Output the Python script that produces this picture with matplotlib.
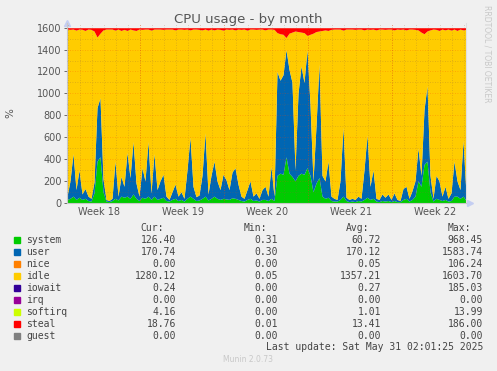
import numpy as np
import matplotlib
matplotlib.use('Agg')
import matplotlib.pyplot as plt
from matplotlib.patches import Rectangle

# munin "cpu" plugin, month view, one sample per 6 hours
system = [30, 40, 60, 30, 50, 30, 40, 20, 15, 90,
          380, 420, 100, 15, 10, 20, 40, 25, 60, 50,
          60, 40, 80, 40, 20, 50, 40, 60, 30, 60,
          30, 40, 50, 20, 15, 30, 40, 20, 30, 15,
          40, 60, 40, 20, 25, 40, 60, 25, 40, 60,
          40, 30, 40, 35, 30, 45, 40, 30, 20, 15,
          30, 40, 20, 25, 15, 30, 30, 20, 40, 20,
          250, 270, 260, 420, 270, 240, 200, 250, 270, 260,
          320, 250, 100, 180, 230, 60, 40, 50, 20, 15,
          15, 30, 60, 20, 10, 15, 10, 20, 15, 30,
          50, 30, 40, 15, 10, 20, 15, 20, 10, 20,
          10, 10, 30, 40, 15, 30, 60, 200, 150, 350,
          380, 100, 15, 40, 30, 20, 30, 15, 20, 60,
          60, 40, 60, 20]
user = [30, 160, 390, 90, 250, 50, 90, 40, 25, 100,
        490, 540, 120, 15, 10, 20, 340, 35, 180, 100,
        400, 190, 480, 140, 40, 270, 160, 500, 60, 390,
        90, 160, 210, 40, 15, 70, 130, 40, 70, 25,
        260, 540, 110, 35, 45, 210, 580, 55, 210, 320,
        160, 90, 220, 175, 90, 235, 280, 140, 40, 25,
        90, 160, 40, 65, 25, 90, 120, 40, 290, 40,
        950, 850, 910, 980, 950, 860, 100, 750, 980, 840,
        1080, 650, 100, 520, 1040, 190, 160, 330, 40, 25,
        15, 170, 630, 30, 20, 25, 20, 40, 25, 270,
        570, 120, 260, 25, 20, 60, 35, 60, 20, 70,
        20, 10, 100, 110, 25, 80, 140, 300, 100, 500,
        690, 150, 25, 210, 170, 40, 120, 25, 70, 320,
        140, 80, 510, 60]
idle = [1528, 1385, 1138, 1458, 1288, 1506, 1445, 1528, 1545, 1380,
        645, 590, 1360, 1558, 1568, 1548, 1198, 1528, 1335, 1435,
        1115, 1358, 1020, 1395, 1528, 1265, 1388, 1028, 1488, 1138,
        1468, 1388, 1325, 1528, 1558, 1488, 1410, 1528, 1488, 1545,
        1288, 980, 1438, 1533, 1515, 1330, 948, 1498, 1338, 1200,
        1388, 1465, 1318, 1378, 1465, 1308, 1260, 1418, 1525, 1548,
        1458, 1388, 1528, 1495, 1548, 1468, 1430, 1528, 1258, 1525,
        355, 425, 370, 110, 330, 460, 1270, 565, 310, 455,
        130, 640, 1350, 865, 300, 1325, 1380, 1195, 1525, 1548,
        1558, 1388, 888, 1538, 1558, 1548, 1555, 1528, 1548, 1280,
        968, 1435, 1288, 1540, 1558, 1508, 1535, 1508, 1558, 1490,
        1558, 1565, 1458, 1430, 1548, 1478, 1385, 1080, 1310, 695,
        500, 1330, 1548, 1335, 1375, 1528, 1430, 1548, 1488, 1208,
        1375, 1468, 1010, 1505]
steal = [12, 15, 12, 22, 12, 14, 25, 12, 15, 30,
         85, 50, 20, 12, 12, 12, 22, 12, 25, 15,
         25, 12, 20, 25, 12, 15, 12, 12, 22, 12,
         12, 12, 15, 12, 12, 12, 20, 12, 12, 15,
         12, 20, 12, 12, 15, 20, 12, 22, 12, 20,
         12, 15, 22, 12, 15, 12, 20, 12, 15, 12,
         22, 12, 12, 15, 12, 12, 20, 12, 12, 15,
         45, 55, 60, 90, 50, 40, 30, 35, 40, 45,
         70, 60, 50, 35, 30, 25, 20, 25, 15, 12,
         12, 12, 22, 12, 12, 12, 15, 12, 12, 20,
         12, 15, 12, 20, 12, 12, 15, 12, 12, 20,
         12, 15, 12, 20, 12, 12, 15, 20, 40, 55,
         30, 20, 12, 15, 25, 12, 20, 12, 22, 12,
         25, 12, 20, 15]

week_labels = ['Week 18', 'Week 19', 'Week 20', 'Week 21', 'Week 22']
week_centers = [2.67, 9.67, 16.67, 23.67, 30.67]   # days from graph start
week_starts = [6.08, 13.08, 20.08, 27.08]

legend_names = ['system', 'user', 'nice', 'idle', 'iowait', 'irq', 'softirq', 'steal', 'guest']
legend_colors = ['#00CC00', '#0066B3', '#FF8000', '#FFCC00', '#330099',
                 '#990099', '#CCFF00', '#FF0000', '#808080']
cur = ['126.40', '170.74', '0.00', '1280.12', '0.24', '0.00', '4.16', '18.76', '0.00']
mins = ['0.31', '0.30', '0.00', '0.05', '0.00', '0.00', '0.00', '0.01', '0.00']
avgs = ['60.72', '170.12', '0.05', '1357.21', '0.27', '0.00', '1.01', '13.41', '0.00']
maxs = ['968.45', '1583.74', '106.24', '1603.70', '185.03', '0.00', '13.99', '186.00', '0.00']

W, H = 497, 371
fig = plt.figure(figsize=(W / 100, H / 100), dpi=100)
fig.patch.set_facecolor('#F0F0F0')

def fx(px):
    return px / W

def fy(py):
    return 1 - py / H

ax = fig.add_axes([fx(67), fy(202.7), (466 - 67) / W, (202.7 - 22.8) / H])
ax.set_facecolor('#F0F0F0')

t = np.arange(len(system)) * 0.25
layers = [system, user, idle, steal]
cols = ['#00CC00', '#0066B3', '#FFCC00', '#FF0000']
base = np.zeros(len(system))
for vals, c in zip(layers, cols):
    top = base + np.array(vals)
    ax.fill_between(t, base, top, color=c, lw=0, zorder=2)
    base = top

ax.set_xlim(0, 33.25)
ax.set_ylim(0, 1645)

# grid on top of the areas, rrdtool style
for v in range(100, 1700, 100):
    if v % 200 == 0:
        ax.axhline(v, color='#FF4000', alpha=0.35, lw=0.6, ls=(0, (1, 2)), zorder=3)
    else:
        ax.axhline(v, color='#906040', alpha=0.35, lw=0.6, ls=(0, (1, 2)), zorder=3)
for d in np.arange(0.08, 33.25, 1.0):
    ax.axvline(d, color='#906040', alpha=0.35, lw=0.6, ls=(0, (1, 2)), zorder=3)
for d in week_starts:
    ax.axvline(d, color='#FF4000', alpha=0.45, lw=0.6, ls=(0, (1, 2)), zorder=3)

ax.set_yticks(range(0, 1601, 200))
ax.set_xticks(week_centers)
ax.set_xticklabels(week_labels)
ax.tick_params(axis='both', labelsize=7, colors='#555555', length=2, width=0.6, pad=2)
ax.tick_params(axis='x', length=0, pad=3)
for s in ['top', 'right']:
    ax.spines[s].set_visible(False)
for s in ['left', 'bottom']:
    ax.spines[s].set_color('#C8C8C8')
    ax.spines[s].set_linewidth(0.8)
ax.spines['right'].set_visible(True)
ax.spines['right'].set_color('#E0E0E0')

ax.plot([0], [1.0], marker='^', ms=4, color='#C4CEF2', transform=ax.transAxes, clip_on=False)
ax.plot([1.01], [0], marker='>', ms=4, color='#C4CEF2', transform=ax.transAxes, clip_on=False)

fig.text(fx(248), fy(19), 'CPU usage - by month', ha='center', va='center',
         fontsize=9.5, color='#555555')
fig.text(fx(10), fy(113), '%', ha='center', va='center', rotation=90,
         fontsize=7.5, color='#555555')
fig.text(fx(487), fy(5), 'RRDTOOL / TOBI OETIKER', ha='center', va='top',
         rotation=270, fontsize=5.5, color='#C8C8C8')

mono = 'DejaVu Sans Mono'
tc = '#444444'
hdr_y = 228
for txt, x in zip(['Cur:', 'Min:', 'Avg:', 'Max:'], [164, 267, 369, 471]):
    fig.text(fx(x), fy(hdr_y), txt, ha='right', va='center', family=mono, fontsize=7, color=tc)

for k, name in enumerate(legend_names):
    y = 240 + 12 * k
    fig.patches.append(Rectangle((fx(14), fy(y + 3)), 6 / W, 6 / H,
                                 transform=fig.transFigure, color=legend_colors[k]))
    fig.text(fx(26.5), fy(y), name, ha='left', va='center', family=mono, fontsize=7, color=tc)
    for vals, x in zip([cur, mins, avgs, maxs], [176, 278, 381, 483]):
        fig.text(fx(x), fy(y), vals[k], ha='right', va='center', family=mono,
                 fontsize=7, color=tc)

fig.text(fx(483), fy(347), 'Last update: Sat May 31 02:01:25 2025', ha='right', va='center',
         family=mono, fontsize=7, color=tc)
fig.text(fx(248), fy(359), 'Munin 2.0.73', ha='center', va='center', fontsize=5.5,
         color='#C8C8C8')

fig.savefig('out.png', dpi=100, facecolor=fig.get_facecolor())
